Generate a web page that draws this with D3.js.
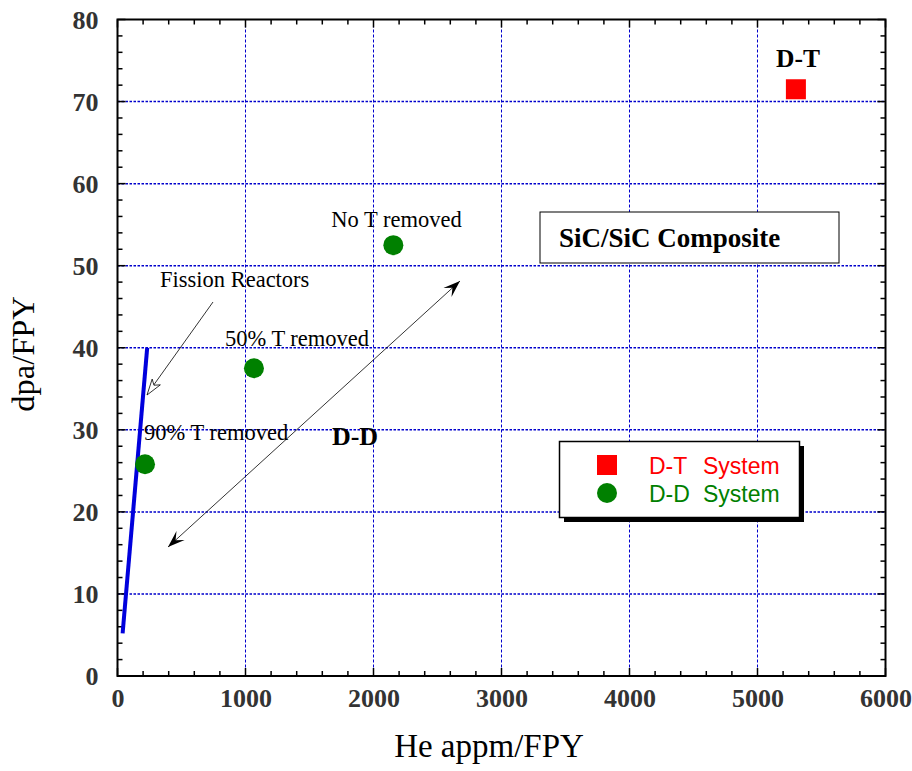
<!DOCTYPE html>
<html><head><meta charset="utf-8">
<script src="https://cdn.jsdelivr.net/npm/d3@7"></script>
<style>body{margin:0;background:#fff}</style>
</head><body>
<svg id="c" width="912" height="771"></svg>
<script>
// Data
const xTicks = [0,1000,2000,3000,4000,5000,6000];
const yTicks = [0,10,20,30,40,50,60,70,80];
const dtSystem = [{x:5300, y:71.5}];
const ddSystem = [
  {x:215, y:25.8, label:"90% T removed"},
  {x:1066, y:37.5, label:"50% T removed"},
  {x:2155, y:52.5, label:"No T removed"}
];
const fissionLine = [{x:40, y:5.2}, {x:232, y:40}];

const svg = d3.select("#c");
const L=117.5, R=885.5, T=19.5, B=676;
const x = d3.scaleLinear().domain([0,6000]).range([L,R]);
const y = d3.scaleLinear().domain([0,80]).range([B,T]);
const serif = "'Liberation Serif','Times New Roman',serif";
const sans = "'Liberation Sans',Arial,sans-serif";

// grid
svg.append("g").selectAll("line").data(xTicks.slice(1,-1)).join("line")
  .attr("x1",d=>x(d)).attr("x2",d=>x(d)).attr("y1",T).attr("y2",B)
  .attr("stroke","#0000cc").attr("stroke-width",1).attr("stroke-dasharray","3,2");
svg.append("g").selectAll("line").data(yTicks.slice(1,-1)).join("line")
  .attr("x1",L).attr("x2",R).attr("y1",d=>y(d)).attr("y2",d=>y(d))
  .attr("stroke","#0000cc").attr("stroke-width",1.5).attr("stroke-dasharray","2.5,1.5");

// minor/major ticks on all four sides
const xMinor = d3.range(0,6001,200), yMinor = d3.range(0,81,2);
function tickLines(vals, isX, pos, dir){
  svg.append("g").selectAll("line").data(vals).join("line")
    .each(function(d){
      const major = isX ? d%1000===0 : d%10===0;
      const len = major?8:5;
      const s=d3.select(this);
      if(isX){ s.attr("x1",x(d)).attr("x2",x(d)).attr("y1",pos).attr("y2",pos+dir*len); }
      else { s.attr("y1",y(d)).attr("y2",y(d)).attr("x1",pos).attr("x2",pos+dir*len); }
    }).attr("stroke","#000").attr("stroke-width",1.5);
}
tickLines(xMinor, true, B, -1);
tickLines(xMinor, true, T, 1);
tickLines(yMinor, false, L, 1);
tickLines(yMinor, false, R, -1);

// tick labels via d3 axes
const xAxis = svg.append("g").attr("transform",`translate(0,${B})`)
  .call(d3.axisBottom(x).tickValues(xTicks).tickSize(0).tickPadding(0).tickFormat(d3.format("d")));
xAxis.select(".domain").remove();
xAxis.selectAll("text").attr("font-family",serif).attr("font-weight","bold").attr("font-size",26)
  .attr("fill","#333").attr("dy",null).attr("y",31);
const yAxis = svg.append("g").attr("transform",`translate(${L},0)`)
  .call(d3.axisLeft(y).tickValues(yTicks).tickSize(0).tickPadding(0));
yAxis.select(".domain").remove();
yAxis.selectAll("text").attr("font-family",serif).attr("font-weight","bold").attr("font-size",26)
  .attr("fill","#333").attr("x",-19).attr("dy","0.33em");

svg.append("rect").attr("x",L).attr("y",T).attr("width",R-L).attr("height",B-T)
  .attr("fill","none").attr("stroke","#000").attr("stroke-width",2);

// axis titles
svg.append("text").attr("x",489).attr("y",757).attr("text-anchor","middle")
  .attr("font-family",serif).attr("font-size",33).text("He appm/FPY");
svg.append("text").attr("transform",`translate(34,354) rotate(-90)`).attr("text-anchor","middle")
  .attr("font-family",serif).attr("font-size",32.5).text("dpa/FPY");

// fission line
svg.append("path").datum(fissionLine)
  .attr("d",d3.line().x(d=>x(d.x)).y(d=>y(d.y)))
  .attr("stroke","#0000dd").attr("stroke-width",4).attr("fill","none");

// markers
svg.append("g").selectAll("rect").data(dtSystem).join("rect")
  .attr("x",d=>x(d.x)-10).attr("y",d=>y(d.y)-10).attr("width",20).attr("height",20).attr("fill","#ff0000");
svg.append("g").selectAll("circle").data(ddSystem).join("circle")
  .attr("cx",d=>x(d.x)).attr("cy",d=>y(d.y)).attr("r",10).attr("fill","#008000");

// point labels
const lblOff = [{dx:-1,dy:-24},{dx:-29,dy:-22},{dx:-62,dy:-18}];
svg.append("g").selectAll("text").data(ddSystem).join("text")
  .attr("x",(d,i)=>x(d.x)+lblOff[i].dx).attr("y",(d,i)=>y(d.y)+lblOff[i].dy)
  .attr("font-family",serif).attr("font-size",22.5).attr("fill","#000").text(d=>d.label);

svg.append("text").attr("x",798).attr("y",67).attr("text-anchor","middle")
  .attr("font-family",serif).attr("font-weight","bold").attr("font-size",25.5).text("D-T");
svg.append("text").attr("x",355).attr("y",445).attr("text-anchor","middle")
  .attr("font-family",serif).attr("font-weight","bold").attr("font-size",26).text("D-D");
svg.append("text").attr("x",160).attr("y",287)
  .attr("font-family",serif).attr("font-size",22.5).text("Fission Reactors");

// fission arrow (open head)
(function(){
  const x1=213,y1=302,x2=147,y2=395;
  svg.append("line").attr("x1",x1).attr("y1",y1).attr("x2",x2+6).attr("y2",y2-9).attr("stroke","#000").attr("stroke-width",0.8);
  const ang=Math.atan2(y2-y1,x2-x1);
  const hl=16, hw=5;
  const p=(l,w)=>[x2-l*Math.cos(ang)+w*Math.sin(ang), y2-l*Math.sin(ang)-w*Math.cos(ang)];
  const pts=[[x2,y2],p(hl,hw),p(hl*0.75,0),p(hl,-hw)];
  svg.append("polygon").attr("points",pts.map(q=>q.join(",")).join(" "))
    .attr("fill","#fff").attr("stroke","#000").attr("stroke-width",0.8);
})();

// double arrow
(function(){
  const a=[168,547], b=[460,281];
  svg.append("line").attr("x1",a[0]).attr("y1",a[1]).attr("x2",b[0]).attr("y2",b[1]).attr("stroke","#000").attr("stroke-width",0.8);
  function head(tip, from){
    const ang=Math.atan2(tip[1]-from[1],tip[0]-from[0]);
    const hl=17, hw=6;
    const p=(l,w)=>[tip[0]-l*Math.cos(ang)+w*Math.sin(ang), tip[1]-l*Math.sin(ang)-w*Math.cos(ang)];
    const pts=[tip,p(hl,hw),p(hl*0.6,0),p(hl,-hw)];
    svg.append("polygon").attr("points",pts.map(q=>q.join(",")).join(" ")).attr("fill","#000");
  }
  head(b,a); head(a,b);
})();

// SiC box
svg.append("rect").attr("x",540).attr("y",212).attr("width",299).attr("height",51)
  .attr("fill","#fff").attr("stroke","#000").attr("stroke-width",1);
svg.append("text").attr("x",559).attr("y",247).attr("font-family",serif).attr("font-weight","bold")
  .attr("font-size",27).text("SiC/SiC Composite");

// legend
svg.append("rect").attr("x",564).attr("y",446).attr("width",240).attr("height",76).attr("fill","#000");
svg.append("rect").attr("x",559.5).attr("y",441.5).attr("width",240).attr("height",76)
  .attr("fill","#fff").attr("stroke","#000").attr("stroke-width",1.5);
const legendNames = ["D-T", "D-D"];
const legendColors = ["#ff0000", "#008000"];
legendNames.forEach((name,i)=>{
  const cy=465+i*28, color=legendColors[i];
  if(i===0) svg.append("rect").attr("x",597).attr("y",cy-10).attr("width",20).attr("height",20).attr("fill",color);
  else svg.append("circle").attr("cx",607).attr("cy",cy).attr("r",10).attr("fill",color);
  const t = svg.append("text").attr("y",cy+8.5).attr("font-family",sans).attr("font-size",23).attr("fill",color);
  t.append("tspan").attr("x",649).text(name);
  t.append("tspan").attr("x",703).text("System");
});
</script>
</body></html>
